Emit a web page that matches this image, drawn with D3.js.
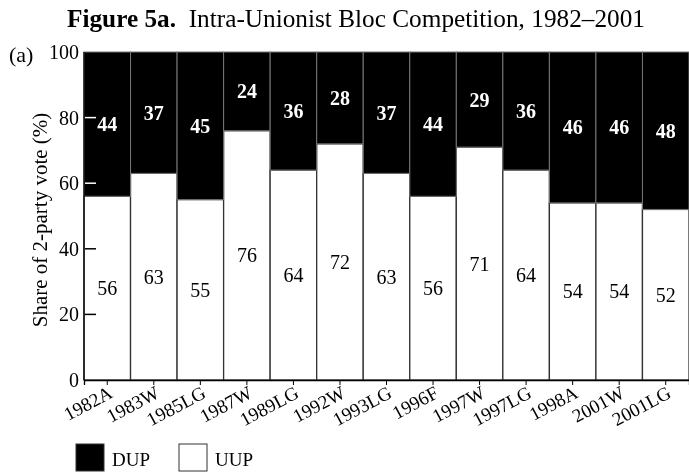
<!DOCTYPE html>
<html>
<head>
<meta charset="utf-8">
<script src="https://cdn.jsdelivr.net/npm/d3@7"></script>
<style>
  body { margin: 0; background: #fff; }
  svg { display: block; font-family: "Liberation Serif", "DejaVu Serif", serif; }
</style>
</head>
<body>
<div id="chart"></div>
<script>
var width = 689,
  height = 472,
  margin = { top: 52, right: 0, bottom: 92, left: 84 },
  plotW = width - margin.left - margin.right,
  plotH = height - margin.top - margin.bottom;

var elections = ["1982A", "1983W", "1985LG", "1987W", "1989LG", "1992W", "1993LG",
  "1996F", "1997W", "1997LG", "1998A", "2001W", "2001LG"];
var uup = [56, 63, 55, 76, 64, 72, 63, 56, 71, 64, 54, 54, 52];
var dup = [44, 37, 45, 24, 36, 28, 37, 44, 29, 36, 46, 46, 48];
var yTicks = [0, 20, 40, 60, 80, 100];

var svg = d3.select("#chart").append("svg")
  .attr("width", width)
  .attr("height", height);

svg.append("text")
  .attr("x", 356).attr("y", 27)
  .attr("text-anchor", "middle")
  .attr("textLength", 578)
  .attr("lengthAdjust", "spacingAndGlyphs")
  .style("font-size", "25px")
  .call(function(t){
    t.append("tspan").style("font-weight", "bold").text("Figure 5a.");
    t.append("tspan").text("\u00a0 Intra-Unionist Bloc Competition, 1982\u20132001");
  });

svg.append("text")
  .attr("x", 9).attr("y", 62)
  .style("font-size", "22px")
  .text("(a)");

var g = svg.append("g")
  .attr("transform", "translate(" + margin.left + "," + margin.top + ")");

var x = d3.scaleBand().domain(elections).range([0, plotW]).padding(0);
var y = d3.scaleLinear().domain([0, 100]).range([plotH, 0]);

var rows = elections.map(function(e, i){ return { name: e, uup: uup[i], dup: dup[i] }; });

// UUP (white, bottom)
g.selectAll(".uup").data(rows).enter().append("rect")
  .attr("class", "uup")
  .attr("x", function(d){ return x(d.name); })
  .attr("y", function(d){ return y(d.uup); })
  .attr("width", x.bandwidth())
  .attr("height", function(d){ return plotH - y(d.uup); })
  .style("fill", "#fff")
  .style("stroke", "#333")
  .style("stroke-width", 1.3);

// DUP (black, top)
g.selectAll(".dup").data(rows).enter().append("rect")
  .attr("class", "dup")
  .attr("x", function(d){ return x(d.name); })
  .attr("y", 0)
  .attr("width", x.bandwidth())
  .attr("height", function(d){ return y(d.uup); })
  .style("fill", "#000")
  .style("stroke", "#777")
  .style("stroke-width", 1);

// value labels
g.selectAll(".dupLbl").data(rows).enter().append("text")
  .attr("x", function(d){ return x(d.name) + x.bandwidth()/2; })
  .attr("y", function(d){ return y(100 - d.dup/2) + 7; })
  .attr("text-anchor", "middle")
  .style("font-size", "20px")
  .style("font-weight", "bold")
  .style("fill", "#fff")
  .text(function(d){ return d.dup; });

g.selectAll(".uupLbl").data(rows).enter().append("text")
  .attr("x", function(d){ return x(d.name) + x.bandwidth()/2; })
  .attr("y", function(d){ return y(d.uup/2) + 7; })
  .attr("text-anchor", "middle")
  .style("font-size", "20px")
  .style("fill", "#000")
  .text(function(d){ return d.uup; });

// y axis: ticks point into the plot
var yAxis = g.append("g")
  .call(d3.axisLeft(y).tickValues(yTicks).tickSize(0).tickPadding(5));
yAxis.select(".domain").remove();
yAxis.selectAll("text")
  .style("font-family", "Liberation Serif, serif")
  .style("font-size", "20px")
  .style("fill", "#000");

g.selectAll(".ytick").data(yTicks.slice(1, 5)).enter().append("line")
  .attr("x1", 1).attr("x2", 12)
  .attr("y1", function(d){ return y(d); })
  .attr("y2", function(d){ return y(d); })
  .style("stroke", "#fff")
  .style("stroke-width", 1.5)
  .style("mix-blend-mode", "difference");

g.append("line")
  .attr("x1", 0).attr("x2", 0).attr("y1", 0).attr("y2", plotH)
  .style("stroke", "#000").style("stroke-width", 1.3);

// x axis
var xAxis = g.append("g")
  .attr("transform", "translate(0," + plotH + ")")
  .call(d3.axisBottom(x).tickSize(5).tickPadding(4));
xAxis.select(".domain").style("stroke", "#000").style("stroke-width", 1.3);
xAxis.selectAll("line").style("stroke", "#000");
xAxis.selectAll("text")
  .style("font-family", "Liberation Serif, serif")
  .style("font-size", "19px")
  .style("fill", "#000")
  .attr("text-anchor", "end")
  .attr("x", -2)
  .attr("y", 18)
  .attr("dy", 0)
  .attr("transform", "rotate(-28)");

// y axis title
svg.append("text")
  .attr("transform", "translate(47," + (margin.top + plotH/2 + 4) + ") rotate(-90)")
  .attr("text-anchor", "middle")
  .style("font-size", "21px")
  .text("Share of 2-party vote (%)");

// legend
var legend = [{ key: "DUP", fill: "#000" }, { key: "UUP", fill: "#fff" }];
var lg = svg.selectAll(".legend").data(legend).enter().append("g")
  .attr("class", "legend")
  .attr("transform", function(d, i){ return "translate(" + (76 + i*103) + ",444)"; });
lg.append("rect")
  .attr("width", 28).attr("height", 27)
  .style("fill", function(d){ return d.fill; })
  .style("stroke", "#333");
lg.append("text")
  .attr("x", 36).attr("y", 22)
  .style("font-size", "19px")
  .text(function(d){ return d.key; });
</script>
</body>
</html>
